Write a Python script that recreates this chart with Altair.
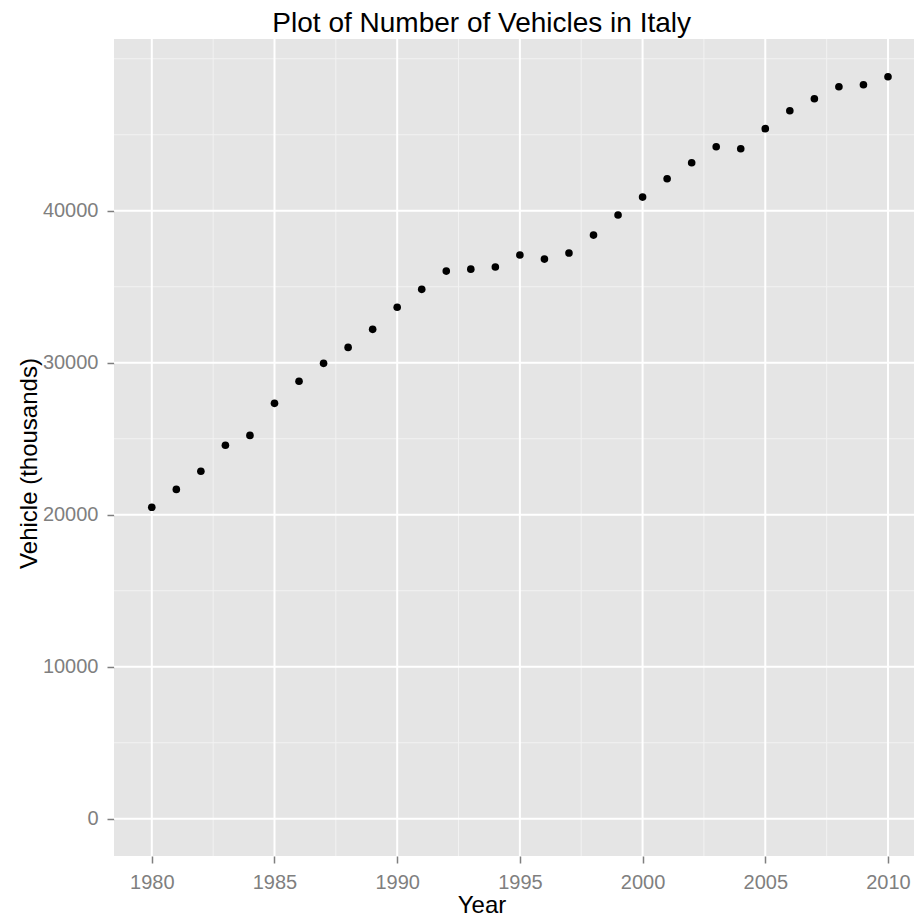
import altair as alt
import pandas as pd

# ---- data ----
years = [1980, 1981, 1982, 1983, 1984, 1985, 1986, 1987, 1988, 1989,
         1990, 1991, 1992, 1993, 1994, 1995, 1996, 1997, 1998, 1999,
         2000, 2001, 2002, 2003, 2004, 2005, 2006, 2007, 2008, 2009, 2010]
vehicles = [20490, 21670, 22860, 24570, 25220, 27330, 28780, 29960, 31010, 32200,
            33650, 34830, 36030, 36160, 36300, 37090, 36820, 37220, 38400, 39720,
            40900, 42110, 43160, 44210, 44080, 45400, 46580, 47370, 48160, 48290, 48820]

x_ticks = [1980, 1985, 1990, 1995, 2000, 2005, 2010]
y_ticks = [0, 10000, 20000, 30000, 40000]
x_minor = [1982.5, 1987.5, 1992.5, 1997.5, 2002.5, 2007.5]
y_minor = [5000, 15000, 25000, 35000, 45000, 50000]

df = pd.DataFrame({"Year": years, "Vehicles": vehicles})
df_xmaj = pd.DataFrame({"Year": x_ticks})
df_ymaj = pd.DataFrame({"Vehicles": y_ticks})
df_xmin = pd.DataFrame({"Year": x_minor})
df_ymin = pd.DataFrame({"Vehicles": y_minor})

FONT = "Liberation Sans"
xscale = alt.Scale(domain=[1978.46, 2011.06], nice=False, zero=False)
yscale = alt.Scale(domain=[-2450, 51300], nice=False, zero=False)

xaxis = alt.Axis(title="Year", values=x_ticks, format="d",
                 titleX=367.5, titleY=56, titleBaseline="alphabetic",
                 titleAlign="center", labelPadding=9)
yaxis = alt.Axis(title="Vehicle (thousands)", values=y_ticks, format="d",
                 titleX=-77.5, titleY=424, titleAngle=270,
                 titleBaseline="alphabetic", titleAlign="center",
                 labelPadding=9, labelBaseline="middle")

X = alt.X("Year:Q", scale=xscale, axis=xaxis)
Y = alt.Y("Vehicles:Q", scale=yscale, axis=yaxis)

minor_x = alt.Chart(df_xmin).mark_rule(color="#F2F2F2", strokeWidth=1).encode(x=X)
minor_y = alt.Chart(df_ymin).mark_rule(color="#F2F2F2", strokeWidth=1).encode(y=Y)
major_x = alt.Chart(df_xmaj).mark_rule(color="#FFFFFF", strokeWidth=2).encode(x=X)
major_y = alt.Chart(df_ymaj).mark_rule(color="#FFFFFF", strokeWidth=2).encode(y=Y)

points = alt.Chart(df).mark_circle(color="black", opacity=1, size=58).encode(x=X, y=Y)

chart = alt.layer(minor_x, minor_y, major_x, major_y, points).properties(
    width=800,
    height=817,
    background="white",
    autosize=alt.AutoSizeParams(type="none"),
    padding={"left": 106, "top": 31, "right": 0, "bottom": 62},
    title=alt.TitleParams(
        text="Plot of Number of Vehicles in Italy",
        font=FONT, fontSize=28, fontWeight="normal", color="#000000",
        anchor="middle", dx=-32.3, dy=30, offset=8, baseline="alphabetic"),
).configure_view(
    fill="#E5E5E5", strokeWidth=0
).configure_axis(
    grid=False, domain=False,
    tickColor="#7F7F7F", tickSize=7, tickWidth=1.5,
    labelColor="#7F7F7F", labelFont=FONT, labelFontSize=20,
    titleFont=FONT, titleFontSize=24, titleColor="#000000", titleFontWeight="normal",
    labelOverlap=False,
)

chart.save("out.html", embed_options={"renderer": "svg", "actions": False})
